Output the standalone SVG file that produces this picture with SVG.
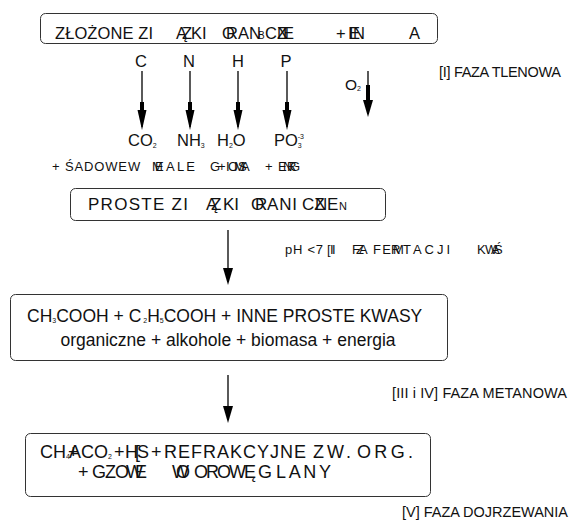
<svg xmlns="http://www.w3.org/2000/svg" width="571" height="522" viewBox="0 0 571 522">
<defs>
<style>
.box{fill:#fff;stroke:#333;stroke-width:1}
.t{font-family:"Liberation Sans",Arial,sans-serif;fill:#111}
.big{font-size:16.5px}
.mid{font-size:15.5px}
.lab{font-size:14.5px}
.sm{font-size:13px}
.sub{font-size:7px}
.thin{stroke:#000;stroke-width:1.3;fill:none}
.shaft{stroke:#000;stroke-width:4;fill:none}
</style>
<marker id="head" viewBox="-20 -5 20 10" refX="-3" refY="0" markerWidth="20" markerHeight="10" markerUnits="userSpaceOnUse" orient="auto">
<path d="M-20,-4.5 L0,0 L-20,4.5 Z" fill="#000"/>
</marker>
<marker id="head2" viewBox="-17 -5 17 10" refX="-3" refY="0" markerWidth="17" markerHeight="10" markerUnits="userSpaceOnUse" orient="auto">
<path d="M-17,-5 L0,0 L-17,5 Z" fill="#000"/>
</marker>
</defs>
<rect width="571" height="522" fill="#fff"/>

<g id="connectors">
<line class="thin" x1="142" y1="71" x2="142" y2="127" marker-end="url(#head)"/>
<line class="shaft" x1="142" y1="102" x2="142" y2="112"/>
<line class="thin" x1="190" y1="71" x2="190" y2="127" marker-end="url(#head)"/>
<line class="shaft" x1="190" y1="102" x2="190" y2="112"/>
<line class="thin" x1="238" y1="71" x2="238" y2="127" marker-end="url(#head)"/>
<line class="shaft" x1="238" y1="102" x2="238" y2="112"/>
<line class="thin" x1="287" y1="71" x2="287" y2="127" marker-end="url(#head)"/>
<line class="shaft" x1="287" y1="102" x2="287" y2="112"/>
<line class="thin" x1="368" y1="71" x2="368" y2="114" marker-end="url(#head2)"/>
<line class="shaft" x1="368" y1="85" x2="368" y2="102"/>
<line class="thin" x1="228" y1="230" x2="228" y2="282" marker-end="url(#head2)"/>
<line class="thin" x1="228" y1="375" x2="228" y2="420" marker-end="url(#head2)"/>
</g>

<g id="node-zlozone">
<rect class="box" x="40.5" y="13.5" width="397" height="30" rx="5"/>
<text class="t big" y="38.5"><tspan x="55" textLength="98">ZŁOŻONE ZI</tspan><tspan x="176">Ą</tspan><tspan x="182">Z</tspan><tspan x="191">KI</tspan><tspan x="222">O</tspan><tspan x="226">RAN</tspan><tspan x="258" style="font-size:10px">B</tspan><tspan x="265">CZ</tspan><tspan x="277">N</tspan><tspan x="283">E</tspan><tspan x="336">+</tspan><tspan x="348">I</tspan><tspan x="349">E</tspan><tspan x="353">N</tspan><tspan x="409">A</tspan></text>
</g>

<g id="node-elements">
<text class="t big" y="67" text-anchor="middle"><tspan x="141">C</tspan><tspan x="189">N</tspan><tspan x="238">H</tspan><tspan x="286">P</tspan></text>
</g>

<g id="node-o2">
<text class="t mid" x="345" y="89.5">O<tspan class="sub" dy="1">2</tspan></text>
</g>

<g id="label-faza1">
<text class="t lab" x="439" y="77" textLength="122">[I] FAZA TLENOWA</text>
</g>

<g id="node-products">
<text class="t big" y="146"><tspan x="128">CO</tspan><tspan class="sub" dy="2">2</tspan><tspan x="177" dy="-2">NH</tspan><tspan class="sub" dy="2">3</tspan><tspan x="217" dy="-2">H</tspan><tspan class="sub" dy="2">2</tspan><tspan dy="-2">O</tspan><tspan x="274">PO</tspan><tspan class="sub" dy="2">3</tspan><tspan class="sub" dx="-4" dy="-9">-3</tspan></text>
</g>

<g id="node-osady">
<text class="t sm" y="171"><tspan x="52" textLength="75">+ ŚADOWE</tspan><tspan x="128">W</tspan><tspan x="152">M</tspan><tspan x="155">E</tspan><tspan x="166" textLength="29">ALE</tspan><tspan x="210">G</tspan><tspan x="218">+</tspan><tspan x="226">I</tspan><tspan x="228">O</tspan><tspan x="234">M</tspan><tspan x="238">S</tspan><tspan x="241">A</tspan><tspan x="265">+</tspan><tspan x="278">E</tspan><tspan x="283">N</tspan><tspan x="287">R</tspan><tspan x="290">G</tspan></text>
</g>

<g id="node-proste">
<rect class="box" x="70.5" y="188.5" width="315" height="32" rx="5"/>
<text class="t big" y="210" style="font-size:17px"><tspan x="88" textLength="100">PROSTE ZI</tspan><tspan x="206">Ą</tspan><tspan x="211">Z</tspan><tspan x="223">KI</tspan><tspan x="251">O</tspan><tspan x="255">R</tspan><tspan x="267" textLength="30">ANI</tspan><tspan x="302">CZ</tspan><tspan x="315">N</tspan><tspan x="327">E</tspan><tspan x="339" style="font-size:11px">N</tspan></text>
</g>

<g id="label-faza2">
<text class="t sm" y="254"><tspan x="285" textLength="38">pH &lt;7</tspan><tspan x="327">[</tspan><tspan x="330">I</tspan><tspan x="332">I</tspan><tspan x="352">F</tspan><tspan x="356">Z</tspan><tspan x="359">A</tspan><tspan x="373" textLength="18">FE</tspan><tspan x="391">R</tspan><tspan x="393">M</tspan><tspan x="403" textLength="47">TACJI</tspan><tspan x="477">K</tspan><tspan x="485">W</tspan><tspan x="491">A</tspan><tspan x="494">Ś</tspan></text>
</g>

<g id="node-kwasy">
<rect class="box" x="10.5" y="294.5" width="437" height="66" rx="5"/>
<text class="t big" y="322" style="font-size:17.5px"><tspan x="27">CH</tspan><tspan class="sub" dy="1">3</tspan><tspan dy="-1">COOH + C</tspan><tspan class="sub" dx="2" dy="1">2</tspan><tspan dy="-1">H</tspan><tspan class="sub" dy="1">5</tspan><tspan dy="-1">COOH + INNE PROSTE KWASY</tspan></text>
<text class="t big" x="228" y="346" text-anchor="middle" style="font-size:17.5px">organiczne + alkohole + biomasa + energia</text>
</g>

<g id="label-faza34">
<text class="t lab" x="392" y="398" textLength="175">[III i IV] FAZA METANOWA</text>
</g>

<g id="node-metan">
<rect class="box" x="25.5" y="433.5" width="405" height="63" rx="5"/>
<text class="t big" y="458" style="font-size:18px"><tspan x="40">CH</tspan><tspan class="sub" dy="1">4</tspan><tspan x="68" dy="-1">+</tspan><tspan x="69">A</tspan><tspan x="81">CO</tspan><tspan class="sub" dy="1">2</tspan><tspan x="114" dy="-1">+</tspan><tspan x="125">H</tspan><tspan x="135">[</tspan><tspan x="137">S</tspan><tspan x="151">+</tspan><tspan x="164" textLength="142">REFRAKCYJNE</tspan><tspan x="313" textLength="38">ZW.</tspan><tspan x="357" textLength="56">ORG.</tspan></text>
<text class="t big" y="478" style="font-size:18px"><tspan x="78">+</tspan><tspan x="92" textLength="37">GZO</tspan><tspan x="126">W</tspan><tspan x="135">E</tspan><tspan x="172">W</tspan><tspan x="176">O</tspan><tspan x="194" textLength="62">OROWĘ</tspan><tspan x="258">G</tspan><tspan x="276" textLength="55">LANY</tspan></text>
</g>

<g id="label-faza5">
<text class="t lab" x="402" y="517" textLength="166">[V] FAZA DOJRZEWANIA</text>
</g>
</svg>
